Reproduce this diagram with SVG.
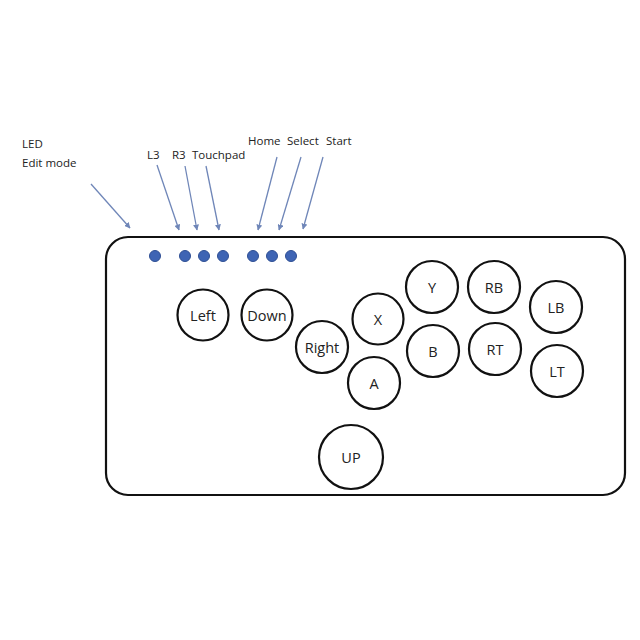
<svg xmlns="http://www.w3.org/2000/svg" width="640" height="640" viewBox="0 0 640 640">
<defs>
<marker id="ah" viewBox="0 0 10 10" refX="9" refY="5" markerWidth="6" markerHeight="6" orient="auto" markerUnits="userSpaceOnUse">
<path d="M0,0 L10,5 L0,10 z" fill="#6f86b8"/>
</marker>
<style>
.lbl{font-family:"Open Sans","Liberation Sans",sans-serif;font-size:11.5px;fill:#222}
.btn circle{fill:#fff;stroke:#111;stroke-width:2.2}
.btn text{font-family:"Open Sans","Liberation Sans",sans-serif;font-size:14.5px;fill:#222;text-anchor:middle;dominant-baseline:central}
.led{fill:#3e64b4;stroke:#2f4f94;stroke-width:1}
.arr{stroke:#6f86b8;stroke-width:1.3;fill:none;marker-end:url(#ah)}
</style>
</defs>
<rect width="640" height="640" fill="#fff"/>
<g id="body"><rect x="106" y="237" width="519" height="258" rx="22" ry="22" fill="#fff" stroke="#111" stroke-width="2.2"/></g>
<g id="leds">
<circle class="led" cx="155" cy="256" r="5.5"/>
<circle class="led" cx="185" cy="256" r="5.5"/>
<circle class="led" cx="204" cy="256" r="5.5"/>
<circle class="led" cx="223" cy="256" r="5.5"/>
<circle class="led" cx="253" cy="256" r="5.5"/>
<circle class="led" cx="272" cy="256" r="5.5"/>
<circle class="led" cx="291" cy="256" r="5.5"/>
</g>
<g id="labels">
<text class="lbl" x="22" y="148">LED</text>
<text class="lbl" x="22" y="167">Edit mode</text>
<text class="lbl" x="147" y="159">L3</text>
<text class="lbl" x="172" y="159">R3</text>
<text class="lbl" x="192" y="159">Touchpad</text>
<text class="lbl" x="248" y="145">Home</text>
<text class="lbl" x="287" y="145">Select</text>
<text class="lbl" x="326" y="145">Start</text>
</g>
<g id="connectors">
<line class="arr" x1="91" y1="184" x2="130" y2="228"/>
<line class="arr" x1="157" y1="165" x2="179" y2="230"/>
<line class="arr" x1="185" y1="166" x2="197" y2="230"/>
<line class="arr" x1="206" y1="166" x2="219" y2="230"/>
<line class="arr" x1="277" y1="157" x2="258" y2="230"/>
<line class="arr" x1="301" y1="157" x2="279" y2="230"/>
<line class="arr" x1="323" y1="157" x2="303" y2="229"/>
</g>
<g id="btn-left" class="btn"><circle cx="203" cy="315" r="25.5"/><text x="203" y="315">Left</text></g>
<g id="btn-down" class="btn"><circle cx="267" cy="315" r="25.5"/><text x="267" y="315">Down</text></g>
<g id="btn-right" class="btn"><circle cx="322" cy="347" r="26"/><text x="322" y="347">Right</text></g>
<g id="btn-x" class="btn"><circle cx="378" cy="319" r="25.5"/><text x="378" y="319">X</text></g>
<g id="btn-a" class="btn"><circle cx="374" cy="383" r="26"/><text x="374" y="383">A</text></g>
<g id="btn-up" class="btn"><circle cx="351" cy="457" r="32"/><text x="351" y="457">UP</text></g>
<g id="btn-y" class="btn"><circle cx="432" cy="287" r="26"/><text x="432" y="287">Y</text></g>
<g id="btn-rb" class="btn"><circle cx="494" cy="287" r="26"/><text x="494" y="287">RB</text></g>
<g id="btn-lb" class="btn"><circle cx="556" cy="307" r="26"/><text x="556" y="307">LB</text></g>
<g id="btn-b" class="btn"><circle cx="433" cy="351" r="26"/><text x="433" y="351">B</text></g>
<g id="btn-rt" class="btn"><circle cx="495" cy="349" r="26"/><text x="495" y="349">RT</text></g>
<g id="btn-lt" class="btn"><circle cx="557" cy="371" r="26"/><text x="557" y="371">LT</text></g>
</svg>
